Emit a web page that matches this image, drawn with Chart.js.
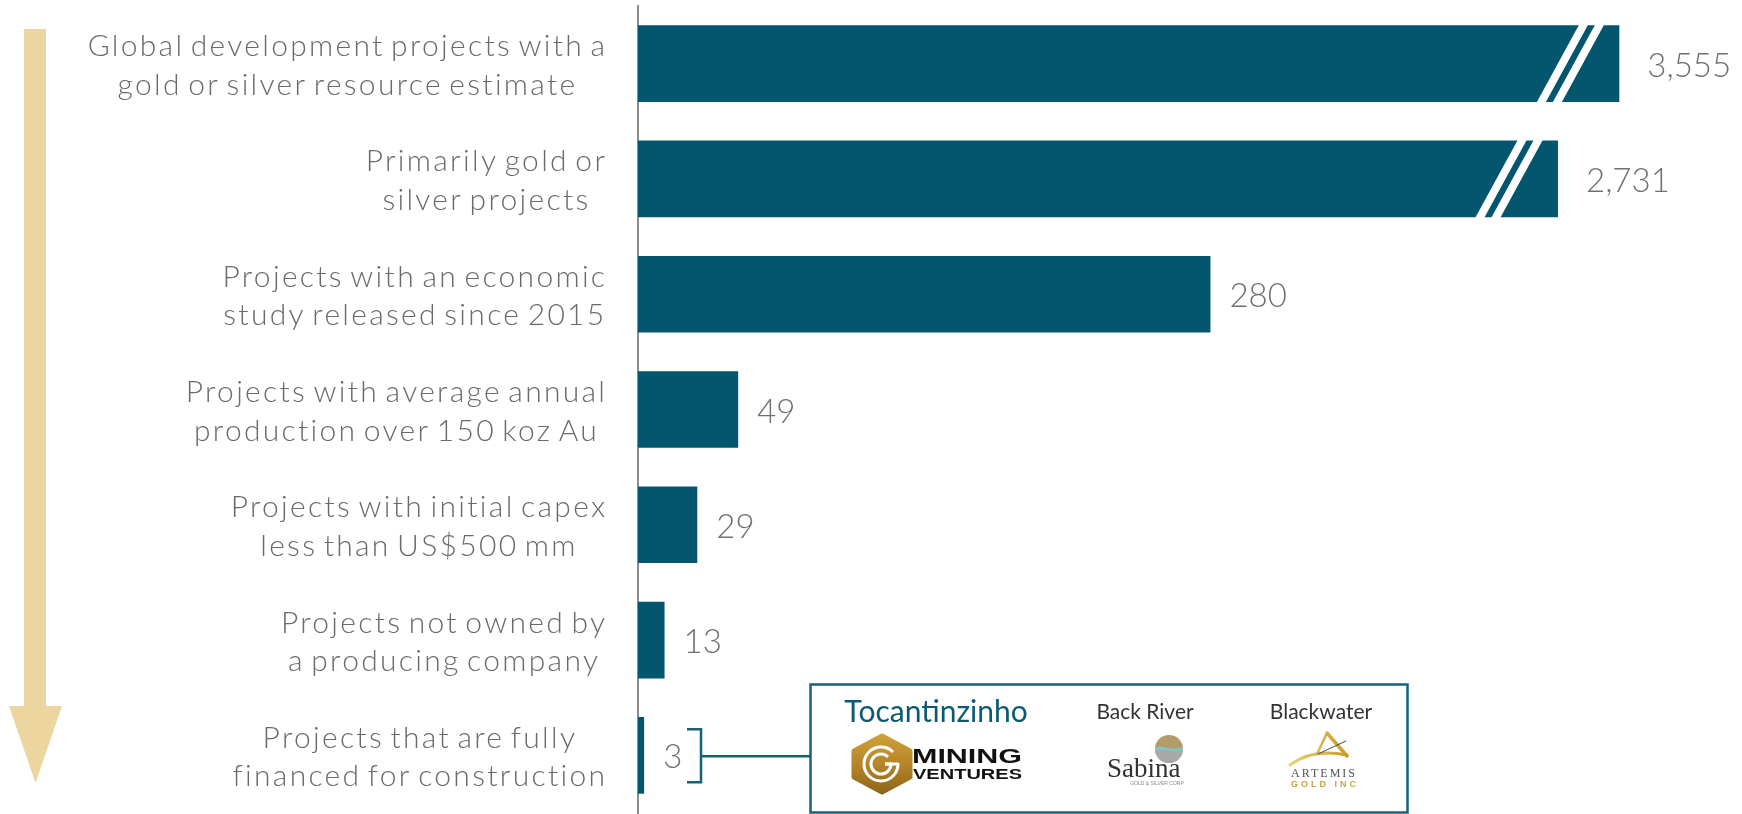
<!DOCTYPE html>
<html>
<head>
<meta charset="utf-8">
<script src="https://cdn.jsdelivr.net/npm/chart.js@4.4.1/dist/chart.umd.min.js"></script>
<style>
  html, body { margin: 0; padding: 0; background: #ffffff; }
  #wrap { position: relative; width: 1742px; height: 814px; }
</style>
</head>
<body>
<div id="wrap"><canvas id="c" width="1742" height="814"></canvas></div>
<script>
// ---------- data ----------
const categories = [
  ["Global development projects with a", "gold or silver resource estimate"],
  ["Primarily gold or", "silver projects"],
  ["Projects with an economic", "study released since 2015"],
  ["Projects with average annual", "production over 150 koz Au"],
  ["Projects with initial capex", "less than US$500 mm"],
  ["Projects not owned by", "a producing company"],
  ["Projects that are fully", "financed for construction"]
];
const values = [3555, 2731, 280, 49, 29, 13, 3];
// broken-axis bars: length shown on the axis (in axis units) for the truncated bars
const brokenDisplay = [480, 450, null, null, null, null, null];
const financedProjects = ["Tocantinzinho", "Back River", "Blackwater"];

// ---------- styles ----------
const BAR = '#03566E';
const TEAL = '#17607A';
const ARROW = '#EDD5A0';
const LABEL = '#6A6A6A';
const VALUE = '#707070';

const plotted = values.map((v, i) => brokenDisplay[i] != null ? brokenDisplay[i] : v);
const fmt = v => v.toLocaleString('en-US');

const decor = {
  id: 'decor',
  beforeDatasetsDraw(chart) {
    const ctx = chart.ctx;
    ctx.save();
    // progression arrow
    ctx.fillStyle = ARROW;
    ctx.fillRect(24, 29, 22, 678);
    ctx.beginPath();
    ctx.moveTo(9, 706); ctx.lineTo(62, 706); ctx.lineTo(35.5, 783); ctx.closePath();
    ctx.fill();
    ctx.restore();
  },
  afterDatasetsDraw(chart) {
    const ctx = chart.ctx;
    const meta = chart.getDatasetMeta(0);
    const yS = chart.scales.y;
    ctx.save();
    // axis-break stripes
    meta.data.forEach((bar, i) => {
      if (brokenDisplay[i] == null) return;
      const top = bar.y - bar.height / 2 - 1, bot = bar.y + bar.height / 2 + 1, e = bar.x;
      ctx.fillStyle = '#ffffff';
      [[-83, -74, -40, -31], [-67, -58, -24, -15]].forEach(([b1, b2, t1, t2]) => {
        ctx.beginPath();
        ctx.moveTo(e + b1, bot); ctx.lineTo(e + b2, bot);
        ctx.lineTo(e + t2, top); ctx.lineTo(e + t1, top);
        ctx.closePath(); ctx.fill();
      });
    });
    // value labels
    ctx.font = '300 33px Lato';
    ctx.fillStyle = VALUE;
    ctx.textAlign = 'left';
    ctx.textBaseline = 'alphabetic';
    meta.data.forEach((bar, i) => {
      const off = brokenDisplay[i] != null ? 28 : 19;
      ctx.fillText(fmt(values[i]), bar.x + off, bar.y + 13);
    });
    // category labels (block right-aligned, lines centred)
    ctx.font = '300 30px Lato';
    ctx.fillStyle = LABEL;
    ctx.textAlign = 'left';
    ctx.letterSpacing = '2.3px';
    ctx.wordSpacing = '-4px';
    categories.forEach((lines, i) => {
      const y = yS.getPixelForValue(i);
      const ws = lines.map(l => ctx.measureText(l).width - 2.3);
      const maxW = Math.max(...ws);
      const cx = 605 - maxW / 2;
      ctx.fillText(lines[0], cx - ws[0] / 2, y - 7.5);
      ctx.fillText(lines[1], cx - ws[1] / 2, y + 31);
    });
    ctx.letterSpacing = '0px';
    ctx.wordSpacing = '0px';
    ctx.restore();
  },
  afterDraw(chart) {
    const ctx = chart.ctx;
    const meta = chart.getDatasetMeta(0);
    const last = meta.data[meta.data.length - 1];
    const cy = last.y + 1;
    ctx.save();
    // bracket + connector
    ctx.strokeStyle = TEAL;
    ctx.lineWidth = 2.5;
    ctx.beginPath();
    ctx.moveTo(687, cy - 27); ctx.lineTo(701, cy - 27); ctx.lineTo(701, cy + 26); ctx.lineTo(687, cy + 26);
    ctx.moveTo(701, cy); ctx.lineTo(810, cy);
    ctx.stroke();
    // box
    ctx.strokeRect(810.5, 684.5, 597, 128);

    // project names
    ctx.textAlign = 'center';
    ctx.textBaseline = 'alphabetic';
    ctx.fillStyle = '#0B5A72';
    ctx.font = '400 30px Lato';
    ctx.fillText(financedProjects[0], 936, 722);
    ctx.fillStyle = '#333333';
    ctx.font = '400 21px Lato';
    ctx.fillText(financedProjects[1], 1145, 719);
    ctx.fillText(financedProjects[2], 1321, 719);

    // --- G Mining Ventures logo ---
    const hx = 882, hy = 764;
    const g = ctx.createLinearGradient(0, 733, 0, 795);
    g.addColorStop(0, '#CFA23A'); g.addColorStop(0.5, '#B5862A'); g.addColorStop(1, '#8A6418');
    ctx.fillStyle = g; ctx.strokeStyle = g; ctx.lineWidth = 5; ctx.lineJoin = 'round';
    ctx.beginPath();
    ctx.moveTo(hx, 736); ctx.lineTo(910, 751); ctx.lineTo(910, 777); ctx.lineTo(hx, 792);
    ctx.lineTo(854, 777); ctx.lineTo(854, 751); ctx.closePath();
    ctx.fill(); ctx.stroke();
    ctx.strokeStyle = '#ffffff'; ctx.lineWidth = 3; ctx.lineCap = 'butt';
    [[17, 4], [10, 4]].forEach(([r, inner]) => {
      ctx.beginPath();
      ctx.arc(hx - 1, hy, r, -Math.PI / 4, 0, true);
      ctx.lineTo(hx - 1 + inner, hy);
      ctx.stroke();
    });
    ctx.fillStyle = '#111111';
    ctx.textAlign = 'left';
    ctx.font = 'bold 20px "Liberation Sans"';
    let w = ctx.measureText('MINING').width;
    ctx.save(); ctx.translate(912, 763); ctx.scale(110 / w, 1); ctx.fillText('MINING', 0, 0); ctx.restore();
    ctx.font = 'bold 14px "Liberation Sans"';
    w = ctx.measureText('VENTURES').width;
    ctx.save(); ctx.translate(913, 779); ctx.scale(109 / w, 1); ctx.fillText('VENTURES', 0, 0); ctx.restore();

    // --- Sabina logo ---
    ctx.save();
    ctx.beginPath(); ctx.arc(1169, 749, 14, 0, Math.PI * 2); ctx.clip();
    ctx.fillStyle = '#B39B6A'; ctx.fillRect(1150, 730, 40, 40);
    ctx.fillStyle = '#A9A9A9';
    ctx.beginPath(); ctx.moveTo(1150, 752);
    ctx.bezierCurveTo(1160, 744, 1170, 756, 1190, 748); ctx.lineTo(1190, 770); ctx.lineTo(1150, 770); ctx.closePath(); ctx.fill();
    ctx.strokeStyle = '#86C3C3'; ctx.lineWidth = 3;
    ctx.beginPath(); ctx.moveTo(1150, 751); ctx.bezierCurveTo(1160, 743, 1170, 755, 1190, 747); ctx.stroke();
    ctx.restore();
    ctx.fillStyle = '#333333';
    ctx.font = '27px "Liberation Serif"';
    ctx.textAlign = 'left';
    ctx.fillText('Sabina', 1107, 777);
    ctx.fillStyle = '#888888';
    ctx.font = '5px "Liberation Sans"';
    ctx.textAlign = 'center';
    ctx.fillText('GOLD & SILVER CORP', 1157, 785);

    // --- Artemis logo ---
    const ag = ctx.createLinearGradient(1290, 0, 1350, 0);
    ag.addColorStop(0, '#E9D27A'); ag.addColorStop(1, '#C99A1E');
    ctx.strokeStyle = ag; ctx.fillStyle = ag; ctx.lineCap = 'round';
    ctx.lineWidth = 3.5;
    ctx.beginPath(); ctx.moveTo(1327, 733); ctx.lineTo(1347, 756); ctx.stroke();
    ctx.lineWidth = 2.5;
    ctx.beginPath(); ctx.moveTo(1327, 733); ctx.lineTo(1318, 752); ctx.stroke();
    ctx.lineWidth = 3;
    ctx.beginPath(); ctx.moveTo(1290, 765); ctx.quadraticCurveTo(1312, 748, 1347, 755); ctx.stroke();
    ctx.strokeStyle = '#4A4A4A'; ctx.lineWidth = 1;
    ctx.beginPath(); ctx.moveTo(1318, 754); ctx.lineTo(1346, 741); ctx.stroke();
    ctx.textAlign = 'center';
    ctx.fillStyle = '#555555';
    ctx.font = '12px "Liberation Serif"';
    ctx.letterSpacing = '2px';
    ctx.fillText('ARTEMIS', 1324, 777);
    ctx.fillStyle = '#C9A43A';
    ctx.font = 'bold 9px "Liberation Sans"';
    ctx.letterSpacing = '3px';
    ctx.fillText('GOLD INC', 1325, 787);
    ctx.letterSpacing = '0px';
    ctx.restore();
  }
};

new Chart(document.getElementById('c'), {
  type: 'bar',
  data: {
    labels: categories,
    datasets: [{
      data: plotted,
      backgroundColor: BAR,
      borderWidth: 0,
      barPercentage: 0.665,
      categoryPercentage: 1
    }]
  },
  options: {
    indexAxis: 'y',
    responsive: false,
    animation: false,
    layout: { padding: { top: 6, right: 0, bottom: 1, left: 0 } },
    plugins: { legend: { display: false }, tooltip: { enabled: false } },
    scales: {
      x: { display: false, min: 0, max: 540 },
      y: {
        afterFit: s => { s.width = 638; },
        grid: { display: false },
        border: { display: true, color: '#8C8C8C', width: 2 },
        ticks: { display: false }
      }
    }
  },
  plugins: [decor]
});
</script>
</body>
</html>
